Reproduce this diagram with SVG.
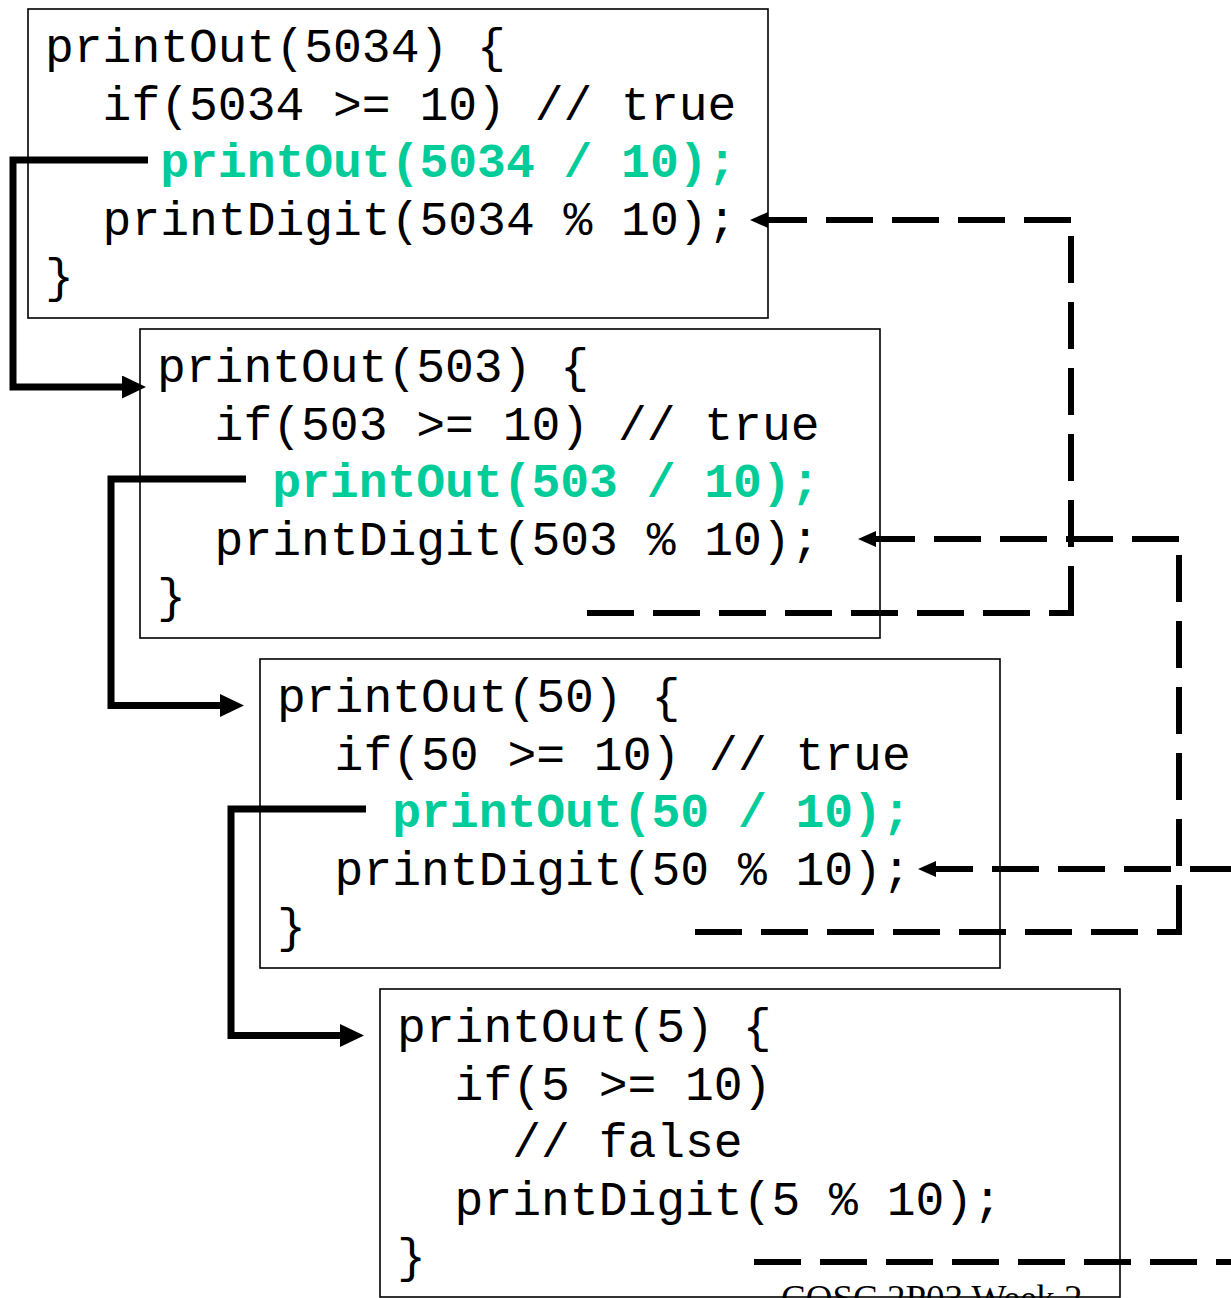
<svg xmlns="http://www.w3.org/2000/svg" width="1231" height="1298" viewBox="0 0 1231 1298">
<style>
.box{fill:#fff;stroke:#000;stroke-width:1.6}
.code{font-family:"Liberation Mono","Courier New",monospace;font-size:48px;fill:#000;white-space:pre}
.hl{font-weight:bold;fill:#00CC99}
.solid{fill:none;stroke:#000;stroke-width:7;stroke-linejoin:miter;stroke-linecap:butt}
.dash{fill:none;stroke:#000;stroke-width:6;stroke-dasharray:47 19;stroke-linecap:butt}
.foot{font-family:"Liberation Serif","Times New Roman",serif;font-size:37px;fill:#000}
</style>
<defs>
<marker id="ah" markerUnits="userSpaceOnUse" markerWidth="26" markerHeight="24" refX="2" refY="11.5" orient="auto">
<path d="M0,0 L24,11.5 L0,23 z" fill="#000"/>
</marker>
<marker id="ahs" markerUnits="userSpaceOnUse" markerWidth="20" markerHeight="17" refX="1" refY="8" orient="auto">
<path d="M0,0 L18,8 L0,16 z" fill="#000"/>
</marker>
</defs>

<g id="frame1">
<rect class="box" x="28" y="9" width="740" height="309"/>
<text class="code" xml:space="preserve" x="45" y="62">printOut(5034) {</text>
<text class="code" xml:space="preserve" x="45" y="119.5">  if(5034 &gt;= 10) // true</text>
<text class="code hl" xml:space="preserve" x="45" y="177">    printOut(5034 / 10);</text>
<text class="code" xml:space="preserve" x="45" y="234.5">  printDigit(5034 % 10);</text>
<text class="code" xml:space="preserve" x="45" y="292">}</text>
</g>

<g id="frame2">
<rect class="box" x="140" y="329" width="740" height="309"/>
<text class="code" xml:space="preserve" x="157" y="382">printOut(503) {</text>
<text class="code" xml:space="preserve" x="157" y="439.5">  if(503 &gt;= 10) // true</text>
<text class="code hl" xml:space="preserve" x="157" y="497">    printOut(503 / 10);</text>
<text class="code" xml:space="preserve" x="157" y="554.5">  printDigit(503 % 10);</text>
<text class="code" xml:space="preserve" x="157" y="612">}</text>
</g>

<g id="frame3">
<rect class="box" x="260" y="659" width="740" height="309"/>
<text class="code" xml:space="preserve" x="277" y="712">printOut(50) {</text>
<text class="code" xml:space="preserve" x="277" y="769.5">  if(50 &gt;= 10) // true</text>
<text class="code hl" xml:space="preserve" x="277" y="827">    printOut(50 / 10);</text>
<text class="code" xml:space="preserve" x="277" y="884.5">  printDigit(50 % 10);</text>
<text class="code" xml:space="preserve" x="277" y="942">}</text>
</g>

<g id="frame4">
<rect class="box" x="380" y="989" width="740" height="308"/>
<text class="code" xml:space="preserve" x="397" y="1042">printOut(5) {</text>
<text class="code" xml:space="preserve" x="397" y="1099.5">  if(5 &gt;= 10)</text>
<text class="code" xml:space="preserve" x="397" y="1157">    // false</text>
<text class="code" xml:space="preserve" x="397" y="1214.5">  printDigit(5 % 10);</text>
<text class="code" xml:space="preserve" x="397" y="1272">}</text>
</g>

<g id="connectors">
<polyline class="solid" points="148,160 13,160 13,387 124,387" marker-end="url(#ah)"/>
<polyline class="solid" points="246,479 111,479 111,705.5 222,705.5" marker-end="url(#ah)"/>
<polyline class="solid" points="366,809 231,809 231,1035.5 342,1035.5" marker-end="url(#ah)"/>

<line class="dash" x1="587" y1="613" x2="1074" y2="613"/>
<line class="dash" x1="1071" y1="613" x2="1071" y2="220"/>
<line class="dash" x1="1071" y1="220" x2="767" y2="220" marker-end="url(#ahs)"/>

<line class="dash" x1="695" y1="932" x2="1182" y2="932"/>
<line class="dash" x1="1179" y1="932" x2="1179" y2="539"/>
<line class="dash" x1="1179" y1="539" x2="875" y2="539" marker-end="url(#ahs)"/>

<line class="dash" x1="754" y1="1262" x2="1306" y2="1262"/>
<line class="dash" x1="1303" y1="1262" x2="1303" y2="869"/>
<line class="dash" x1="1303" y1="869" x2="935" y2="869" marker-end="url(#ahs)"/>
</g>

<text class="foot" x="781" y="1311">COSC 2P03 Week 2</text>
</svg>
